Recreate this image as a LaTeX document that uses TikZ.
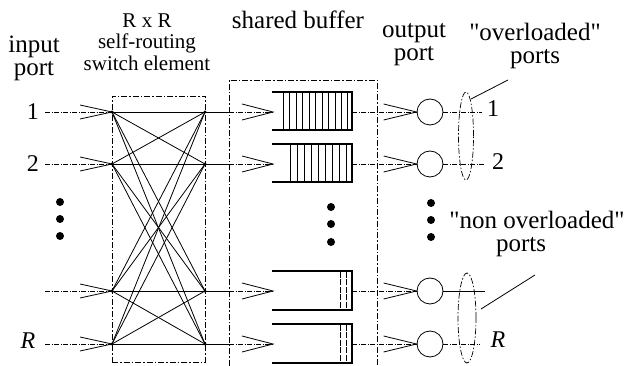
\documentclass[tikz,border=0pt]{standalone}
\usepackage{fontspec}
\setmainfont{Liberation Serif}[Ligatures=TeXOff]
\begin{document}
\begin{tikzpicture}[x=1pt,y=-1pt,
  thinline/.style={line width=0.8pt},
  dashline/.style={line width=0.6pt,dash pattern=on 5pt off 1.5pt on 1pt off 1.5pt},
  dashbox/.style={line width=0.7pt,dash pattern=on 6pt off 2pt on 1.5pt off 2pt},
  bufline/.style={line width=1.9pt},
  stripe/.style={line width=0.8pt},
  outport/.style={circle,draw,line width=0.8pt,minimum size=26pt,inner sep=0pt},
  bigtxt/.style={font=\fontsize{25}{23}\selectfont,align=center,inner sep=0pt},
  midtxt/.style={font=\fontsize{21}{21.5}\selectfont,align=center,inner sep=0pt},
  numtxt/.style={font=\fontsize{24}{24}\selectfont,inner sep=0pt},
  dotmark/.style={circle,fill,inner sep=0pt,minimum size=8pt}]
\useasboundingbox (0,0) rectangle (630,366);

% titles
\node[bigtxt] (tin) at (34,58) {input\\port};
\node[midtxt] (tsw) at (147,42) {R x R\\self-routing\\switch element};
\node[bigtxt] (tbuf) at (298,20) {shared buffer};
\node[bigtxt] (tout) at (414,45) {output\\port};
\node[bigtxt] (tover) at (535,46) {"overloaded"\\ports};
\node[bigtxt] (tnon) at (537,220) {"non overloaded"};
\node[bigtxt] (tnonp) at (521,247) {ports};

% boxes
\node[draw,dashbox,minimum width=93pt,minimum height=266pt,inner sep=0pt] (swbox) at (158.5,229) {};
\coordinate (sbTL) at (229,80);
\coordinate (sbTR) at (377,80);
\coordinate (sbBL) at (229,366);
\coordinate (sbBR) at (377,366);
\draw[dashbox] (sbBL) -- (sbTL) -- (sbTR) -- (sbBR);

% rows
\foreach \i/\y in {1/112,2/164,3/291,4/344}{
  \coordinate (in\i) at (45,\y);
  \coordinate (L\i) at (112,\y);
  \coordinate (S\i) at (205,\y);
  \coordinate (M\i) at (229,\y);
  \coordinate (B\i) at (273,\y);
  \coordinate (Q\i) at (352,\y);
  \node[outport] (O\i) at (430,\y) {};
  \draw[dashline] (in\i) -- (L\i);
  \draw[thinline] (L\i) ++(-32,-7) -- (L\i) -- ++(-32,7);
  \draw[thinline] (S\i) -- (M\i);
  \draw[dashline] (M\i) -- (B\i);
  \draw[thinline] (B\i) ++(-31,-8) -- (B\i) -- ++(-31,8);
  \draw[dashline] (Q\i) -- (O\i.west);
  \draw[thinline] (O\i.west) ++(-33,-8) -- (O\i.west) -- ++(-33,8);
  \fill (L\i) circle (1.6pt);
  \fill (S\i) circle (1.6pt);
}
% full mesh
\foreach \i in {1,...,4}{
  \foreach \j in {1,...,4}{
    \draw[thinline] (L\i) -- (S\j);
  }
}

% buffers
\foreach \i/\t/\b in {1/92/130,2/144/182,3/271/310,4/324/363}{
  \draw[bufline] (272,\t) -- (352,\t) -- (352,\b) -- (272,\b);
}
\foreach \x in {283,289.5,296,302.5,309,315.5,322,328.5,335,341.5,347.5}{
  \draw[stripe] (\x,93) -- (\x,129);
}
\foreach \x in {290,297,304,311,318,325,332,339,346}{
  \draw[stripe] (\x,145) -- (\x,181);
}
\foreach \x in {340,346.5}{
  \draw[stripe,dash pattern=on 6pt off 1.5pt] (\x,272) -- (\x,309);
  \draw[stripe,dash pattern=on 6pt off 1.5pt] (\x,325) -- (\x,362);
}

% output lines
\coordinate (E1) at (482,112);
\coordinate (E2) at (484,164);
\coordinate (E3) at (485,291);
\coordinate (E4) at (480,344);
\draw[dashline] (O1.east) -- (E1);
\draw[dashline] (O2.east) -- (E2);
\draw[thinline] (O3.east) -- (E3);
\draw[dashline] (O4.east) -- (E4);

% port numbers
\node[numtxt] (n1) at (33,112) {1};
\node[numtxt] (n2) at (33,164) {2};
\node[numtxt] (nR) at (28,341) {\itshape R};
\node[numtxt] (m1) at (493,109) {1};
\node[numtxt] (m2) at (498,162) {2};
\node[numtxt] (mR) at (498,340) {\itshape R};

% ellipses
\draw[dashbox,line width=0.7pt] (466,136) ellipse [x radius=7.5pt,y radius=44pt];
\draw[dashbox,line width=0.7pt] (467,318) ellipse [x radius=9pt,y radius=45pt];
\coordinate (p1a) at (471,99);
\coordinate (p1b) at (508,80);
\coordinate (p2a) at (481,309);
\coordinate (p2b) at (535,275);
\draw[thinline] (p1a) -- (p1b);
\draw[thinline] (p2a) -- (p2b);

% dots
\foreach \y in {202,219,236}{
  \node[dotmark] at (60,\y) {};
}
\foreach \y in {207,224,242}{
  \node[dotmark] at (331,\y) {};
}
\foreach \y in {203,220,237}{
  \node[dotmark] at (431,\y) {};
}
\end{tikzpicture}
\end{document}
